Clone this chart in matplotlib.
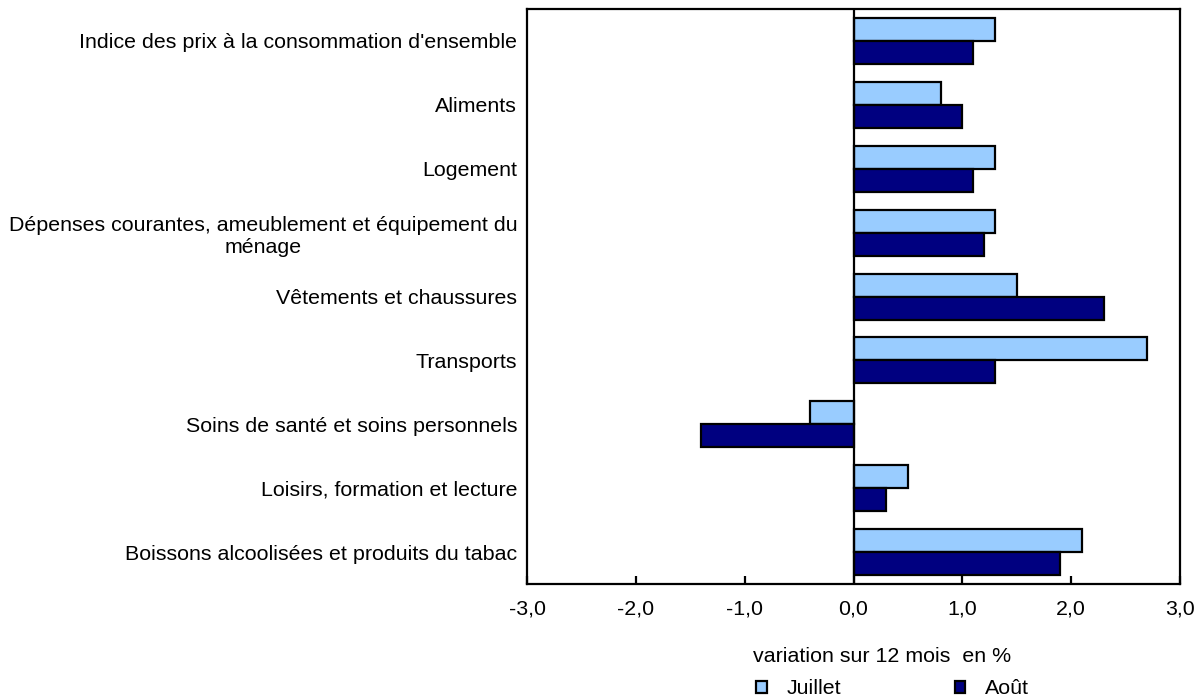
import matplotlib.pyplot as plt
import numpy as np
from matplotlib.patches import Patch

plt.rcParams['font.family'] = ['Liberation Sans', 'DejaVu Sans']

# --- data ---
categories = [
    "Indice des prix à la consommation d'ensemble",
    "Aliments",
    "Logement",
    "Dépenses courantes, ameublement et équipement du\nménage",
    "Vêtements et chaussures",
    "Transports",
    "Soins de santé et soins personnels",
    "Loisirs, formation et lecture",
    "Boissons alcoolisées et produits du tabac",
]
juillet = [1.3, 0.8, 1.3, 1.3, 1.5, 2.7, -0.4, 0.5, 2.1]
aout = [1.1, 1.0, 1.1, 1.2, 2.3, 1.3, -1.4, 0.3, 1.9]
series_labels = ["Juillet", "Août"]
xticks = [-3, -2, -1, 0, 1, 2, 3]
xtick_labels = ["-3,0", "-2,0", "-1,0", "0,0", "1,0", "2,0", "3,0"]

c_jul = "#99CCFF"
c_aou = "#000080"
fs = 15.4

fig = plt.figure(figsize=(11.97, 7), dpi=100)
ax = fig.add_axes([527 / 1197, 1 - 584 / 700, (1180 - 527) / 1197, (584 - 9) / 700])

y = np.arange(len(categories))
h = 0.36
ax.barh(y - h / 2, juillet, height=h, color=c_jul, edgecolor="black", linewidth=1.6)
ax.barh(y + h / 2, aout, height=h, color=c_aou, edgecolor="black", linewidth=1.6)

ax.axvline(0, color="black", linewidth=1.6, zorder=3)

ax.set_xlim(-3, 3)
ax.set_ylim(len(categories) - 0.5, -0.5)
ax.set_xticks(xticks)
ax.set_xticklabels(xtick_labels, fontsize=fs)
ax.set_yticks(y)
ax.set_yticklabels(categories, fontsize=fs, multialignment="center", linespacing=1.2)
ax.tick_params(axis="y", length=0, pad=7)
ax.tick_params(axis="x", direction="in", length=6, width=1.6, pad=11)
for s in ax.spines.values():
    s.set_linewidth(1.6)

fig.text(753 / 1197, 1 - 657 / 700, "variation sur 12 mois  en %", fontsize=fs,
         va="center", ha="left")

handles = [Patch(facecolor=c_jul, edgecolor="black", linewidth=1.6),
           Patch(facecolor=c_aou, edgecolor="black", linewidth=1.6)]
fig.legend(handles, series_labels, loc="center left",
           bbox_to_anchor=(756 / 1197, 1 - 689 / 700), ncol=2, frameon=False,
           fontsize=fs, handlelength=0.5, handleheight=0.5, handletextpad=0.93,
           columnspacing=5.3, borderpad=0, borderaxespad=0)

fig.savefig("out.png", dpi=100)
